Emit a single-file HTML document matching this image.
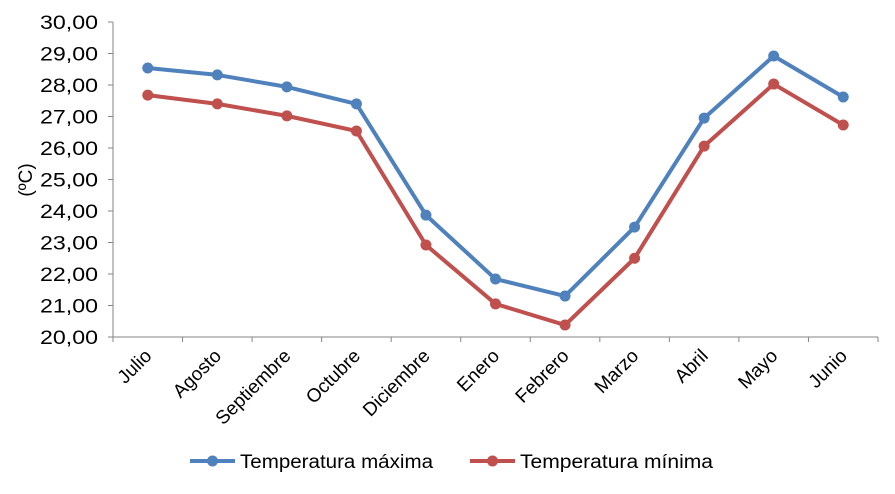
<!DOCTYPE html>
<html><head><meta charset="utf-8"><style>
body{margin:0;background:#fff;}
svg text{font-family:"Liberation Sans",Arial,sans-serif;fill:#000;}
</style></head><body>
<svg width="895" height="489">
<g id="chart"></g>
</svg>
<script>
const categories=["Julio","Agosto","Septiembre","Octubre","Diciembre","Enero","Febrero","Marzo","Abril","Mayo","Junio"];
const maxTemps=[28.54,28.32,27.94,27.40,23.87,21.84,21.30,23.49,26.95,28.92,27.62];
const minTemps=[27.68,27.40,27.02,26.54,22.92,21.05,20.38,22.50,26.06,28.03,26.73];
const yTicks=[20,21,22,23,24,25,26,27,28,29,30];
const NS="http://www.w3.org/2000/svg";
const g=document.getElementById('chart');
const L=113,R=878,T=22,B=337,ymin=20,ymax=30;
const step=(R-L)/categories.length;
const x=i=>L+step*(i+0.5);
const y=v=>B-(v-ymin)/(ymax-ymin)*(B-T);
function el(t,a,p){const e=document.createElementNS(NS,t);for(const k in a)e.setAttribute(k,a[k]);(p||g).appendChild(e);return e;}
const ya=el('line',{x1:L,y1:T,x2:L,y2:B,stroke:'#868686','stroke-width':1});


const xa=el('line',{x1:L,y1:B,x2:R,y2:B,stroke:'#868686','stroke-width':1});


yTicks.forEach(v=>{
  el('line',{x1:L-5,y1:y(v),x2:L,y2:y(v),stroke:'#868686'});
  const t=el('text',{x:98,y:y(v)+7,'text-anchor':'end','font-size':19,textLength:58,lengthAdjust:'spacingAndGlyphs'});
  t.textContent=v.toFixed(2).replace('.',',');
  
  
});
for(let i=0;i<=categories.length;i++){el('line',{x1:L+step*i,y1:B,x2:L+step*i,y2:B+5,stroke:'#868686'});}
categories.forEach((c,i)=>{
  const t=el('text',{x:x(i)+5,y:B+20,'text-anchor':'end','font-size':19,transform:`rotate(-45 ${x(i)+5} ${B+20})`});
  t.textContent=c;
  
  
});
const yt=el('text',{x:32,y:180,'text-anchor':'middle','font-size':19,transform:'rotate(-90 32 180)'});
yt.textContent='(ºC)';


function series(vals,color,name){
  const p=el('polyline',{points:vals.map((v,i)=>x(i)+','+y(v)).join(' '),fill:'none',stroke:color,'stroke-width':4,'stroke-linejoin':'round'});
  
  
  vals.forEach((v,i)=>{
    const c=el('circle',{cx:x(i),cy:y(v),r:5.5,fill:color});
    
    
  });
}
series(maxTemps,'#4F81BD','max-temp');
series(minTemps,'#C0504D','min-temp');
function legend(x0,color,label,name){
  const lg=el('g',{});
  
  
  el('line',{x1:x0,y1:461,x2:x0+45,y2:461,stroke:color,'stroke-width':4},lg);
  el('circle',{cx:x0+22.5,cy:461,r:5.5,fill:color},lg);
  const t=el('text',{x:x0+50,y:468,'font-size':19,textLength:193,lengthAdjust:'spacingAndGlyphs'},lg);t.textContent=label;
}
legend(190,'#4F81BD','Temperatura máxima','legend-max');
legend(470,'#C0504D','Temperatura mínima','legend-min');
</script>
</body></html>
